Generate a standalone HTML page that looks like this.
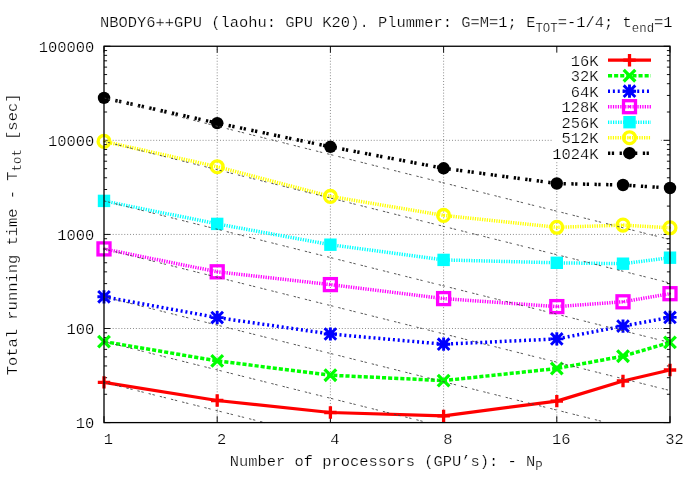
<!DOCTYPE html>
<html><head><meta charset="utf-8"><title>NBODY6++GPU</title>
<style>html,body{margin:0;padding:0;background:#fff;width:698px;height:488px;overflow:hidden;}svg{display:block;will-change:transform;}text{font-family:"Liberation Mono",monospace;font-size:15.45px;fill:#000;stroke:#fff;stroke-width:0.24px;paint-order:fill stroke;}</style></head><body>
<svg width="698" height="488" viewBox="0 0 698 488">
<rect x="0" y="0" width="698" height="488" fill="#ffffff"/>
<path d="M104.0 328.51H670.0 M104.0 234.43H670.0 M104.0 140.34H670.0 M217.20 46.25V422.6 M330.40 46.25V422.6 M443.60 46.25V422.6 M556.80 46.25V422.6" stroke="#878787" stroke-width="1.0" stroke-dasharray="0.95 1.95" fill="none"/>
<rect x="553" y="48" width="107.5" height="113.5" fill="#fff"/>
<path d="M104.0 422.60h6.4M670.0 422.60h-6.4 M104.0 394.28h3.1M670.0 394.28h-3.1 M104.0 377.71h3.1M670.0 377.71h-3.1 M104.0 365.95h3.1M670.0 365.95h-3.1 M104.0 356.84h3.1M670.0 356.84h-3.1 M104.0 349.39h3.1M670.0 349.39h-3.1 M104.0 343.09h3.1M670.0 343.09h-3.1 M104.0 337.63h3.1M670.0 337.63h-3.1 M104.0 332.82h3.1M670.0 332.82h-3.1 M104.0 328.51h6.4M670.0 328.51h-6.4 M104.0 300.19h3.1M670.0 300.19h-3.1 M104.0 283.62h3.1M670.0 283.62h-3.1 M104.0 271.87h3.1M670.0 271.87h-3.1 M104.0 262.75h3.1M670.0 262.75h-3.1 M104.0 255.30h3.1M670.0 255.30h-3.1 M104.0 249.00h3.1M670.0 249.00h-3.1 M104.0 243.54h3.1M670.0 243.54h-3.1 M104.0 238.73h3.1M670.0 238.73h-3.1 M104.0 234.43h6.4M670.0 234.43h-6.4 M104.0 206.10h3.1M670.0 206.10h-3.1 M104.0 189.53h3.1M670.0 189.53h-3.1 M104.0 177.78h3.1M670.0 177.78h-3.1 M104.0 168.66h3.1M670.0 168.66h-3.1 M104.0 161.21h3.1M670.0 161.21h-3.1 M104.0 154.91h3.1M670.0 154.91h-3.1 M104.0 149.46h3.1M670.0 149.46h-3.1 M104.0 144.64h3.1M670.0 144.64h-3.1 M104.0 140.34h6.4M670.0 140.34h-6.4 M104.0 112.01h3.1M670.0 112.01h-3.1 M104.0 95.45h3.1M670.0 95.45h-3.1 M104.0 83.69h3.1M670.0 83.69h-3.1 M104.0 74.57h3.1M670.0 74.57h-3.1 M104.0 67.12h3.1M670.0 67.12h-3.1 M104.0 60.82h3.1M670.0 60.82h-3.1 M104.0 55.37h3.1M670.0 55.37h-3.1 M104.0 50.56h3.1M670.0 50.56h-3.1 M104.0 46.25h6.4M670.0 46.25h-6.4 M104.00 422.6v-6.4M104.00 46.25v6.4 M217.20 422.6v-6.4M217.20 46.25v6.4 M330.40 422.6v-6.4M330.40 46.25v6.4 M443.60 422.6v-6.4M443.60 46.25v6.4 M556.80 422.6v-6.4M556.80 46.25v6.4 M670.00 422.6v-6.4M670.00 46.25v6.4" stroke="#111" stroke-width="1.0" fill="none"/>
<polyline points="104.00,382.40 217.20,400.50 330.40,412.50 443.60,415.90 556.80,401.10 623.00,381.00 670.00,370.00" stroke="#ff0000" stroke-width="3.2" fill="none" stroke-linejoin="round"/>
<path d="M97.80 382.40H110.20M104.00 376.20V388.60" stroke="#ff0000" stroke-width="3.3" fill="none"/>
<path d="M211.00 400.50H223.40M217.20 394.30V406.70" stroke="#ff0000" stroke-width="3.3" fill="none"/>
<path d="M324.20 412.50H336.60M330.40 406.30V418.70" stroke="#ff0000" stroke-width="3.3" fill="none"/>
<path d="M437.40 415.90H449.80M443.60 409.70V422.10" stroke="#ff0000" stroke-width="3.3" fill="none"/>
<path d="M550.60 401.10H563.00M556.80 394.90V407.30" stroke="#ff0000" stroke-width="3.3" fill="none"/>
<path d="M616.80 381.00H629.20M623.00 374.80V387.20" stroke="#ff0000" stroke-width="3.3" fill="none"/>
<path d="M663.80 370.00H676.20M670.00 363.80V376.20" stroke="#ff0000" stroke-width="3.3" fill="none"/>
<polyline points="104.00,341.60 217.20,360.90 330.40,375.20 443.60,380.60 556.80,368.50 623.00,356.20 670.00,342.40" stroke="#00ff00" stroke-width="3.5" fill="none" stroke-linejoin="round" stroke-dasharray="4.1 2.0"/>
<path d="M98.20 335.80L109.80 347.40M98.20 347.40L109.80 335.80" stroke="#00ff00" stroke-width="3.3" fill="none"/>
<path d="M211.40 355.10L223.00 366.70M211.40 366.70L223.00 355.10" stroke="#00ff00" stroke-width="3.3" fill="none"/>
<path d="M324.60 369.40L336.20 381.00M324.60 381.00L336.20 369.40" stroke="#00ff00" stroke-width="3.3" fill="none"/>
<path d="M437.80 374.80L449.40 386.40M437.80 386.40L449.40 374.80" stroke="#00ff00" stroke-width="3.3" fill="none"/>
<path d="M551.00 362.70L562.60 374.30M551.00 374.30L562.60 362.70" stroke="#00ff00" stroke-width="3.3" fill="none"/>
<path d="M617.20 350.40L628.80 362.00M617.20 362.00L628.80 350.40" stroke="#00ff00" stroke-width="3.3" fill="none"/>
<path d="M664.20 336.60L675.80 348.20M664.20 348.20L675.80 336.60" stroke="#00ff00" stroke-width="3.3" fill="none"/>
<polyline points="104.00,296.80 217.20,317.60 330.40,334.00 443.60,344.20 556.80,338.90 623.00,326.10 670.00,317.40" stroke="#0000ff" stroke-width="3.5" fill="none" stroke-linejoin="round" stroke-dasharray="2 2.87"/>
<path d="M98.20 291.00L109.80 302.60M98.20 302.60L109.80 291.00M97.40 296.80H110.60M104.00 290.20V303.40" stroke="#0000ff" stroke-width="2.9" fill="none"/>
<path d="M211.40 311.80L223.00 323.40M211.40 323.40L223.00 311.80M210.60 317.60H223.80M217.20 311.00V324.20" stroke="#0000ff" stroke-width="2.9" fill="none"/>
<path d="M324.60 328.20L336.20 339.80M324.60 339.80L336.20 328.20M323.80 334.00H337.00M330.40 327.40V340.60" stroke="#0000ff" stroke-width="2.9" fill="none"/>
<path d="M437.80 338.40L449.40 350.00M437.80 350.00L449.40 338.40M437.00 344.20H450.20M443.60 337.60V350.80" stroke="#0000ff" stroke-width="2.9" fill="none"/>
<path d="M551.00 333.10L562.60 344.70M551.00 344.70L562.60 333.10M550.20 338.90H563.40M556.80 332.30V345.50" stroke="#0000ff" stroke-width="2.9" fill="none"/>
<path d="M617.20 320.30L628.80 331.90M617.20 331.90L628.80 320.30M616.40 326.10H629.60M623.00 319.50V332.70" stroke="#0000ff" stroke-width="2.9" fill="none"/>
<path d="M664.20 311.60L675.80 323.20M664.20 323.20L675.80 311.60M663.40 317.40H676.60M670.00 310.80V324.00" stroke="#0000ff" stroke-width="2.9" fill="none"/>
<polyline points="104.00,248.90 217.20,271.80 330.40,284.60 443.60,298.60 556.80,306.60 623.00,301.80 670.00,293.70" stroke="#ff00ff" stroke-width="3.5" fill="none" stroke-linejoin="round" stroke-dasharray="1.25 1.2"/>
<rect x="98.00" y="242.90" width="12.00" height="12.00" stroke="#ff00ff" stroke-width="3.3" fill="none"/><circle cx="104.00" cy="248.90" r="1.1" fill="#ff00ff"/>
<rect x="211.20" y="265.80" width="12.00" height="12.00" stroke="#ff00ff" stroke-width="3.3" fill="none"/><circle cx="217.20" cy="271.80" r="1.1" fill="#ff00ff"/>
<rect x="324.40" y="278.60" width="12.00" height="12.00" stroke="#ff00ff" stroke-width="3.3" fill="none"/><circle cx="330.40" cy="284.60" r="1.1" fill="#ff00ff"/>
<rect x="437.60" y="292.60" width="12.00" height="12.00" stroke="#ff00ff" stroke-width="3.3" fill="none"/><circle cx="443.60" cy="298.60" r="1.1" fill="#ff00ff"/>
<rect x="550.80" y="300.60" width="12.00" height="12.00" stroke="#ff00ff" stroke-width="3.3" fill="none"/><circle cx="556.80" cy="306.60" r="1.1" fill="#ff00ff"/>
<rect x="617.00" y="295.80" width="12.00" height="12.00" stroke="#ff00ff" stroke-width="3.3" fill="none"/><circle cx="623.00" cy="301.80" r="1.1" fill="#ff00ff"/>
<rect x="664.00" y="287.70" width="12.00" height="12.00" stroke="#ff00ff" stroke-width="3.3" fill="none"/><circle cx="670.00" cy="293.70" r="1.1" fill="#ff00ff"/>
<polyline points="104.00,200.90 217.20,223.90 330.40,244.70 443.60,259.90 556.80,262.80 623.00,263.70 670.00,257.70" stroke="#00ffff" stroke-width="3.5" fill="none" stroke-linejoin="round" stroke-dasharray="1.25 1.25"/>
<rect x="97.80" y="194.70" width="12.40" height="12.40" fill="#00ffff"/>
<rect x="211.00" y="217.70" width="12.40" height="12.40" fill="#00ffff"/>
<rect x="324.20" y="238.50" width="12.40" height="12.40" fill="#00ffff"/>
<rect x="437.40" y="253.70" width="12.40" height="12.40" fill="#00ffff"/>
<rect x="550.60" y="256.60" width="12.40" height="12.40" fill="#00ffff"/>
<rect x="616.80" y="257.50" width="12.40" height="12.40" fill="#00ffff"/>
<rect x="663.80" y="251.50" width="12.40" height="12.40" fill="#00ffff"/>
<polyline points="104.00,141.40 217.20,166.70 330.40,196.40 443.60,215.40 556.80,227.30 623.00,225.10 670.00,227.80" stroke="#ffff00" stroke-width="3.5" fill="none" stroke-linejoin="round" stroke-dasharray="1.25 1.15"/>
<circle cx="104.00" cy="141.40" r="5.9" stroke="#ffff00" stroke-width="3.3" fill="none"/><circle cx="104.00" cy="141.40" r="1.1" fill="#ffff00"/>
<circle cx="217.20" cy="166.70" r="5.9" stroke="#ffff00" stroke-width="3.3" fill="none"/><circle cx="217.20" cy="166.70" r="1.1" fill="#ffff00"/>
<circle cx="330.40" cy="196.40" r="5.9" stroke="#ffff00" stroke-width="3.3" fill="none"/><circle cx="330.40" cy="196.40" r="1.1" fill="#ffff00"/>
<circle cx="443.60" cy="215.40" r="5.9" stroke="#ffff00" stroke-width="3.3" fill="none"/><circle cx="443.60" cy="215.40" r="1.1" fill="#ffff00"/>
<circle cx="556.80" cy="227.30" r="5.9" stroke="#ffff00" stroke-width="3.3" fill="none"/><circle cx="556.80" cy="227.30" r="1.1" fill="#ffff00"/>
<circle cx="623.00" cy="225.10" r="5.9" stroke="#ffff00" stroke-width="3.3" fill="none"/><circle cx="623.00" cy="225.10" r="1.1" fill="#ffff00"/>
<circle cx="670.00" cy="227.80" r="5.9" stroke="#ffff00" stroke-width="3.3" fill="none"/><circle cx="670.00" cy="227.80" r="1.1" fill="#ffff00"/>
<polyline points="104.00,97.90 217.20,123.10 330.40,146.80 443.60,168.30 556.80,183.50 623.00,185.00 670.00,188.00" stroke="#000000" stroke-width="3.5" fill="none" stroke-linejoin="round" stroke-dasharray="2.3 1.5 2.3 5.5"/>
<circle cx="104.00" cy="97.90" r="6.2" fill="#000000"/>
<circle cx="217.20" cy="123.10" r="6.2" fill="#000000"/>
<circle cx="330.40" cy="146.80" r="6.2" fill="#000000"/>
<circle cx="443.60" cy="168.30" r="6.2" fill="#000000"/>
<circle cx="556.80" cy="183.50" r="6.2" fill="#000000"/>
<circle cx="623.00" cy="185.00" r="6.2" fill="#000000"/>
<circle cx="670.00" cy="188.00" r="6.2" fill="#000000"/>
<path d="M104.0 382.40L264.67 422.60 M104.0 341.60L427.74 422.60 M104.0 296.80L606.79 422.60 M104.0 248.90L670.00 390.52 M104.0 200.90L670.00 342.52 M104.0 141.40L670.00 283.02 M104.0 97.90L670.00 239.52" stroke="#444444" stroke-width="0.9" stroke-dasharray="2.4 1.6 2.4 5.1" fill="none"/>
<rect x="104.0" y="46.25" width="566.0" height="376.35" stroke="#000" stroke-width="1.3" fill="none"/>
<text x="598.6" y="65.50" text-anchor="end">16K</text>
<path d="M608 60.20H651" stroke="#ff0000" stroke-width="3.2" fill="none"/>
<path d="M623.30 60.20H635.70M629.50 54.00V66.40" stroke="#ff0000" stroke-width="3.3" fill="none"/>
<text x="598.6" y="81.00" text-anchor="end">32K</text>
<path d="M608 75.70H651" stroke="#00ff00" stroke-width="3.5" fill="none" stroke-dasharray="4.1 2.0"/>
<path d="M623.70 69.90L635.30 81.50M623.70 81.50L635.30 69.90" stroke="#00ff00" stroke-width="3.3" fill="none"/>
<text x="598.6" y="96.50" text-anchor="end">64K</text>
<path d="M608 91.20H651" stroke="#0000ff" stroke-width="3.5" fill="none" stroke-dasharray="2 2.87"/>
<path d="M623.70 85.40L635.30 97.00M623.70 97.00L635.30 85.40M622.90 91.20H636.10M629.50 84.60V97.80" stroke="#0000ff" stroke-width="2.9" fill="none"/>
<text x="598.6" y="112.00" text-anchor="end">128K</text>
<path d="M608 106.70H651" stroke="#ff00ff" stroke-width="3.5" fill="none" stroke-dasharray="1.25 1.2"/>
<rect x="623.50" y="100.70" width="12.00" height="12.00" stroke="#ff00ff" stroke-width="3.3" fill="none"/><circle cx="629.50" cy="106.70" r="1.1" fill="#ff00ff"/>
<text x="598.6" y="127.50" text-anchor="end">256K</text>
<path d="M608 122.20H651" stroke="#00ffff" stroke-width="3.5" fill="none" stroke-dasharray="1.25 1.25"/>
<rect x="623.30" y="116.00" width="12.40" height="12.40" fill="#00ffff"/>
<text x="598.6" y="143.00" text-anchor="end">512K</text>
<path d="M608 137.70H651" stroke="#ffff00" stroke-width="3.5" fill="none" stroke-dasharray="1.25 1.15"/>
<circle cx="629.50" cy="137.70" r="5.9" stroke="#ffff00" stroke-width="3.3" fill="none"/><circle cx="629.50" cy="137.70" r="1.1" fill="#ffff00"/>
<text x="598.6" y="158.50" text-anchor="end">1024K</text>
<path d="M608 153.20H651" stroke="#000000" stroke-width="3.5" fill="none" stroke-dasharray="2.3 1.5 2.3 5.5"/>
<circle cx="629.50" cy="153.20" r="6.2" fill="#000000"/>
<text x="94.3" y="428.30" text-anchor="end">10</text>
<text x="94.3" y="334.21" text-anchor="end">100</text>
<text x="94.3" y="240.12" text-anchor="end">1000</text>
<text x="94.3" y="146.04" text-anchor="end">10000</text>
<text x="94.3" y="51.95" text-anchor="end">100000</text>
<text x="108.40" y="443.7" text-anchor="middle">1</text>
<text x="221.60" y="443.7" text-anchor="middle">2</text>
<text x="334.80" y="443.7" text-anchor="middle">4</text>
<text x="448.00" y="443.7" text-anchor="middle">8</text>
<text x="561.20" y="443.7" text-anchor="middle">16</text>
<text x="674.40" y="443.7" text-anchor="middle">32</text>
<text x="100" y="27.3" xml:space="preserve">NBODY6++GPU (laohu: GPU K20). Plummer: G=M=1; E<tspan font-size="12.36" dy="4.3">TOT</tspan><tspan dy="-4.3">=-1/4; t</tspan><tspan font-size="12.36" dy="4.3">end</tspan><tspan dy="-4.3">=1</tspan></text>
<text x="386.2" y="466" text-anchor="middle" xml:space="preserve">Number of processors (GPU’s): - N<tspan font-size="12.36" dy="4.3">P</tspan></text>
<text transform="translate(16.7 234.4) rotate(-90)" text-anchor="middle" xml:space="preserve">Total running time - T<tspan font-size="12.36" dy="4.3">tot</tspan><tspan dy="-4.3"> [sec]</tspan></text>
</svg></body></html>
